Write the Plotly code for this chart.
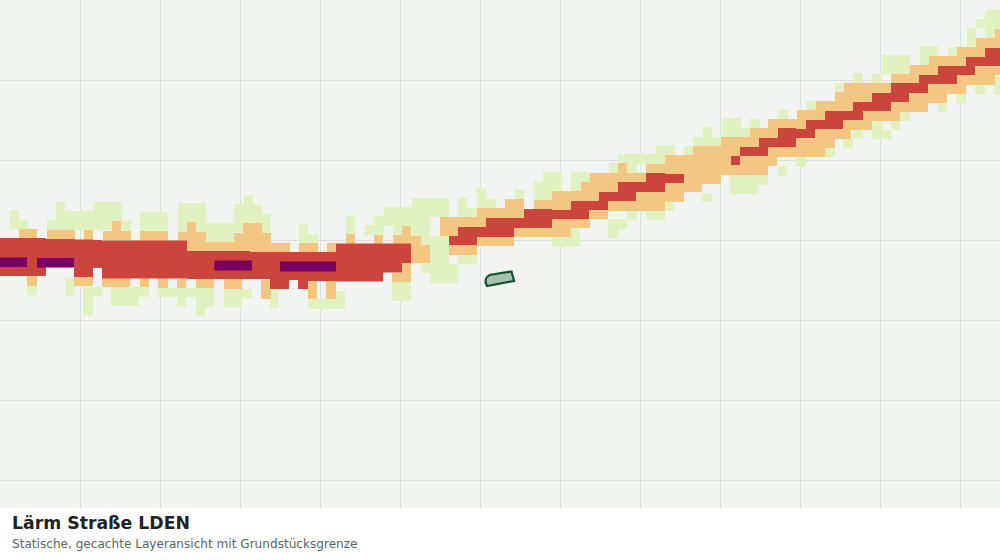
import plotly.graph_objects as go

# noise bands, one run per raster step: left, right, top, bottom
green_runs = [
    (9.5,19,210,229),(19,28,220,229),(47,56,220,230),(56,65,202,230),(65,94,211,230),(94,122,202,230),
    (122,131,221,231),(140,168,212,231),(178,206,203,232),(206,234,223,242),(234,244,204,232),(244,253,195,224),
    (253,262,205,223),(262,271,214,233),(299,308,224,243),(308,318,234,243),(346,355,216,234),(365,374,225,235),
    (374,384,216,235),(384,393,207,226),(393,402,207,235),(402,412,207,226),(412,421,198,236),(421,430,198,245),
    (430,449,198,217),(458,467,198,217),(467,477,208,217),(477,486,189,208),(486,496,199,209),(515,524,190,199),
    (534,543,181,200),(543,552,172,200),(552,562,172,191),(571,590,172,191),(609,618,163,173),(618,627,154,164),
    (627,637,154,173),(637,656,154,164),(656,665,145,164),(665,675,145,155),(684,693,146,155),(693,703,137,146),
    (703,712,127,146),(712,722,137,146),(722,741,118,137),(741,750,128,137),(750,760,119,128),(778,788,110,119),
    (806,816,101,110),(835,844,83,92),(853,863,73,83),(872,882,74,83),(882,910,55,74),(920,929,46,65),
    (929,938,46,56),(948,957,47,56),(967,976,28,47),(976,985,19,28),(985,995,10,38),(995,1000,10,29),
    # south of the road
    (27,37,286,295),(65,74,277,296),(83,93,287,315),(93,102,287,296),(111,139,287,306),(139,149,287,297),
    (158,177,288,297),(177,186,288,307),(186,196,288,297),(196,205,288,316),(205,214,288,307),(224,242,289,307),
    (242,252,289,298),(270,279,290,308),(308,336,299,309),(336,345,291,309),(392,411,282,301),(421,430,263,273),
    (430,440,236,283),(440,449,236,283),(449,458,264,283),(458,477,255,264),(552,571,237,247),(571,580,228,247),
    (608,618,219,238),(618,627,219,229),(627,637,211,220),(646,665,211,220),(665,674,202,211),(702,712,193,202),
    (730,758,175,194),(758,768,175,185),(778,787,166,176),(796,806,157,167),(825,835,148,157),(843,853,139,148),
    (853,863,130,139),(872,882,121,139),(882,891,130,139),(891,900,121,130),(900,910,112,121),(938,947,103,112),
    (956,966,94,103),(975,985,85,94),(994,1000,76,95),
]
orange_runs = [
    (19,37,229,238),(27,37,276,286),(47,75,230,240),(84,93,230,240),(103,112,231,240),(112,121,221,240),
    (121,131,231,240),(140,168,231,241),(178,187,232,245),(187,196,222,251),(196,206,232,251),(206,234,242,251),
    (234,243,233,252),(243,262,223,252),(262,271,233,252),(271,290,243,252),(299,318,243,252),(327,336,243,252),
    (346,355,234,244),(374,383,235,244),(393,402,235,244),(402,411,226,244),(411,421,236,263),(421,430,245,263),
    (74,93,277,286),(102,130,278,287),(140,149,278,287),(158,168,278,288),(177,186,279,288),(196,214,279,288),
    (224,242,279,289),(261,271,280,299),(308,317,281,299),(326,336,281,299),(392,402,273,282),(402,411,263,282),
    (440,449,217,236),(449,477,217,255),(477,505,208,246),(505,514,199,246),(514,524,199,237),(524,534,209,237),
    (534,552,200,237),(552,571,191,237),(571,581,191,228),(581,590,182,228),(590,608,173,219),(608,618,173,211),
    (618,627,163,211),(627,646,173,211),(646,665,164,211),(665,684,155,202),(684,693,155,192),(693,702,146,192),
    (702,721,146,184),(721,750,137,175),(750,768,128,175),(768,777,119,166),(777,797,119,157),(797,816,110,157),
    (816,825,101,157),(825,835,101,148),(835,844,92,139),(844,851,83,139),(851,872,83,130),(872,891,83,121),
    (891,900,74,121),(900,910,74,112),(910,928,65,112),(928,929,65,103),(929,947,56,103),(947,957,56,94),
    (957,966,47,94),(966,976,47,85),(976,995,38,85),(995,1000,29,75),
]
red_runs = [
    (0,46,238,276),(46,74,239,267),(74,93,239.5,277),(93,102,240,268),(102,187,240.5,278.5),(187,250,251,279),
    (250,270,252,279),(270,289,252,289),(289,298,252,280),(298,308,252,289),(308,336,252,281),(336,383,243.5,281.5),
    (383,402,243.5,272.5),(402,411,243.5,263),
    (449,458,236,245),(458,477,227,245),(477,486,227,237),(486,514,218,237),(514,524,218,228),(524,552,209,228),
    (552,571,210,219),(571,589,201,219),(589,599,201,210),(599,608,192,210),(608,618,192,201),(618,636,182,201),
    (636,646,182,192),(646,665,173,192),(665,684,174,183),
    (731,740,156,165),(740,759,147,156),(759,768,138,156),(768,778,138,147),(778,796,128,147),(796,806,129,138),
    (806,815,120,138),(815,825,120,129),(825,843,111,129),(843,853,111,120),(853,863,102,120),(863,872,102,111),
    (872,891,93,111),(891,909,83,102),(909,919,83,93),(919,928,75,93),(928,938,75,84),(938,957,66,84),
    (957,966,66,75),(966,975,57,75),(975,985,57,66),(985,1000,48,66),
]
purple_runs = [(0,27,257.5,267),(37,74,258,267.5),(214.5,252,260.5,270.5),(280,336,261.5,271.5)]

# Grundstück
parcel_x = [486,489.5,511.5,514,487,485.5,486]
parcel_y = [278,275,271.5,281,286,282.5,278]

band_colors = ["#e2f1c0", "#f4c684", "#cc453c", "#7a0060"]
title = "Lärm Straße LDEN"
subtitle = "Statische, gecachte Layeransicht mit Grundstücksgrenze"

fig = go.Figure()
for runs, color in zip([green_runs, orange_runs, red_runs, purple_runs], band_colors):
    fig.add_trace(go.Bar(
        x=[(r[0] + r[1]) / 2 for r in runs],
        width=[r[1] - r[0] for r in runs],
        base=[r[2] for r in runs],
        y=[r[3] - r[2] for r in runs],
        marker=dict(color=color, line=dict(width=0)),
        hoverinfo="skip",
    ))

fig.add_trace(go.Scatter(
    x=parcel_x, y=parcel_y, mode="lines", fill="toself",
    fillcolor="#a9c1b0", line=dict(color="#14532d", width=2.2), hoverinfo="skip",
))

fig.update_layout(
    width=1000, height=560,
    margin=dict(l=0, r=0, t=0, b=0),
    paper_bgcolor="white",
    plot_bgcolor="#f2f4f1",
    barmode="overlay",
    showlegend=False,
    font=dict(family="DejaVu Sans"),
    xaxis=dict(range=[0, 1000], dtick=80, tick0=0, showgrid=True, gridcolor="#d9e1dd", gridwidth=1,
               showticklabels=False, ticks="", zeroline=False, domain=[0, 1]),
    yaxis=dict(range=[508, 0], dtick=80, tick0=0, showgrid=True, gridcolor="#d9e1dd", gridwidth=1,
               showticklabels=False, ticks="", zeroline=False, domain=[52 / 560, 1]),
    annotations=[
        dict(text="<b>" + title + "</b>", x=10 / 1000, y=37 / 560, xref="paper", yref="paper",
             xanchor="left", yanchor="middle", showarrow=False, font=dict(size=17.3, color="#1c2424")),
        dict(text=subtitle, x=10 / 1000, y=16 / 560, xref="paper", yref="paper",
             xanchor="left", yanchor="middle", showarrow=False, font=dict(size=12.1, color="#5b6664")),
    ],
)

fig.write_html("out.html", post_script="document.body.style.margin='0';", config={"displayModeBar": False})
